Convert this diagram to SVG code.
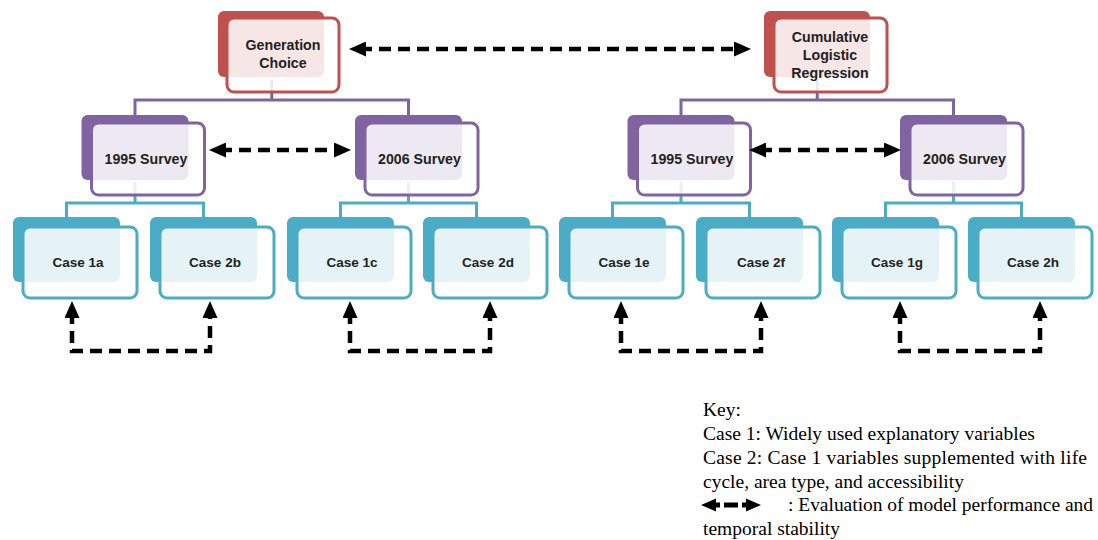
<svg xmlns="http://www.w3.org/2000/svg" width="1098" height="540" viewBox="0 0 1098 540">
<defs>
<style>
.bk-r{fill:#C0504D}
.fr-r{fill:#fff;fill-opacity:.86;stroke:#C0504D;stroke-width:3}
.bk-p{fill:#8064A2}
.fr-p{fill:#fff;fill-opacity:.86;stroke:#8064A2;stroke-width:3}
.bk-t{fill:#4BACC6}
.fr-t{fill:#fff;fill-opacity:.86;stroke:#4BACC6;stroke-width:3}
.lbl{font-family:"Liberation Sans",Arial,sans-serif;font-weight:bold;font-size:13.5px;fill:#222;text-anchor:middle}
.big{font-size:14.2px}
.key{font-family:"Liberation Serif","Times New Roman",serif;font-size:19.5px;fill:#000}
.cp{fill:none;stroke:#8064A2;stroke-width:3}
.ct{fill:none;stroke:#4BACC6;stroke-width:3}
.da{fill:none;stroke:#000;stroke-width:4.5;stroke-dasharray:12 7;marker-start:url(#ah);marker-end:url(#ah)}
</style>
<marker id="ah" markerUnits="userSpaceOnUse" markerWidth="17" markerHeight="15" refX="6" refY="7.5" orient="auto-start-reverse" viewBox="0 0 17 15">
<path d="M0,0 L17,7.5 L0,15 Z" fill="#000"/>
</marker>
</defs>

<g id="connectors">
<path class="cp" d="M135,116 V100 H408.5 V116 M271.75,80 V100"/>
<path class="cp" d="M681,116 V100 H953.5 V116 M817.25,80 V100"/>
<path class="ct" d="M66.5,218 V203 H203.5 V218 M135,182 V203"/>
<path class="ct" d="M340.5,218 V203 H476.5 V218 M408.5,182 V203"/>
<path class="ct" d="M612.5,218 V203 H749.5 V218 M681,182 V203"/>
<path class="ct" d="M885.5,218 V203 H1021.5 V218 M953.5,182 V203"/>
</g>

<g id="node-generation-choice">
<rect class="bk-r" x="218" y="11" width="106" height="66" rx="6"/>
<rect class="fr-r" x="227" y="18" width="112" height="74" rx="7"/>
<text class="lbl big" x="283" y="50">Generation</text>
<text class="lbl big" x="283" y="68">Choice</text>
</g>
<g id="node-cumulative-logistic-regression">
<rect class="bk-r" x="764" y="11" width="106" height="66" rx="6"/>
<rect class="fr-r" x="774" y="18" width="113" height="74" rx="7"/>
<text class="lbl big" x="830" y="42">Cumulative</text>
<text class="lbl big" x="830" y="60">Logistic</text>
<text class="lbl big" x="830" y="78">Regression</text>
</g>

<g id="node-1995-survey-left">
<rect class="bk-p" x="81.5" y="115" width="107" height="65" rx="6"/>
<rect class="fr-p" x="91.5" y="123" width="113" height="72" rx="7"/>
<text class="lbl big" x="146" y="164">1995 Survey</text>
</g>
<g id="node-2006-survey-left">
<rect class="bk-p" x="355" y="115" width="107" height="65" rx="6"/>
<rect class="fr-p" x="365" y="123" width="113" height="72" rx="7"/>
<text class="lbl big" x="419.5" y="164">2006 Survey</text>
</g>
<g id="node-1995-survey-right">
<rect class="bk-p" x="627.5" y="115" width="107" height="65" rx="6"/>
<rect class="fr-p" x="637.5" y="123" width="113" height="72" rx="7"/>
<text class="lbl big" x="692" y="164">1995 Survey</text>
</g>
<g id="node-2006-survey-right">
<rect class="bk-p" x="900" y="115" width="107" height="65" rx="6"/>
<rect class="fr-p" x="910" y="123" width="113" height="72" rx="7"/>
<text class="lbl big" x="964.5" y="164">2006 Survey</text>
</g>

<g id="node-case-1a">
<rect class="bk-t" x="13" y="217" width="107" height="65" rx="6"/>
<rect class="fr-t" x="23" y="227" width="114" height="71" rx="7"/>
<text class="lbl" x="78" y="267">Case 1a</text>
</g>
<g id="node-case-2b">
<rect class="bk-t" x="150" y="217" width="107" height="65" rx="6"/>
<rect class="fr-t" x="160" y="227" width="114" height="71" rx="7"/>
<text class="lbl" x="215" y="267">Case 2b</text>
</g>
<g id="node-case-1c">
<rect class="bk-t" x="287" y="217" width="107" height="65" rx="6"/>
<rect class="fr-t" x="297" y="227" width="114" height="71" rx="7"/>
<text class="lbl" x="352" y="267">Case 1c</text>
</g>
<g id="node-case-2d">
<rect class="bk-t" x="423" y="217" width="107" height="65" rx="6"/>
<rect class="fr-t" x="433" y="227" width="114" height="71" rx="7"/>
<text class="lbl" x="488" y="267">Case 2d</text>
</g>
<g id="node-case-1e">
<rect class="bk-t" x="559" y="217" width="107" height="65" rx="6"/>
<rect class="fr-t" x="569" y="227" width="114" height="71" rx="7"/>
<text class="lbl" x="624" y="267">Case 1e</text>
</g>
<g id="node-case-2f">
<rect class="bk-t" x="696" y="217" width="107" height="65" rx="6"/>
<rect class="fr-t" x="706" y="227" width="114" height="71" rx="7"/>
<text class="lbl" x="761" y="267">Case 2f</text>
</g>
<g id="node-case-1g">
<rect class="bk-t" x="832" y="217" width="107" height="65" rx="6"/>
<rect class="fr-t" x="842" y="227" width="114" height="71" rx="7"/>
<text class="lbl" x="897" y="267">Case 1g</text>
</g>
<g id="node-case-2h">
<rect class="bk-t" x="968" y="217" width="107" height="65" rx="6"/>
<rect class="fr-t" x="978" y="227" width="114" height="71" rx="7"/>
<text class="lbl" x="1033" y="267">Case 2h</text>
</g>

<g id="evaluation-arrows">
<path class="da" d="M360,49 H740"/>
<path class="da" d="M220,150 H340"/>
<path class="da" d="M760,150 H890"/>
<path class="da" d="M72,312 V351 H210 V312"/>
<path class="da" d="M350,312 V351 H490 V312"/>
<path class="da" d="M621,312 V351 H761 V312"/>
<path class="da" d="M900,312 V351 H1040 V312"/>
</g>

<g id="key">
<text class="key" x="703" y="416">Key:</text>
<text class="key" x="703" y="440">Case 1: Widely used explanatory variables</text>
<text class="key" x="703" y="464" textLength="384" lengthAdjust="spacing">Case 2: Case 1 variables supplemented with life</text>
<text class="key" x="703" y="487.5">cycle, area type, and accessibility</text>
<g id="key-arrow" fill="#000">
<polygon points="701,505 716,498.5 716,511.5"/>
<rect x="715" y="502.5" width="5" height="5"/>
<rect x="724" y="502.5" width="14" height="5"/>
<rect x="742" y="502.5" width="5" height="5"/>
<polygon points="746,498.5 761,505 746,511.5"/>
</g>
<text class="key" x="788" y="511" textLength="305" lengthAdjust="spacing">: Evaluation of model performance and</text>
<text class="key" x="703" y="535">temporal stability</text>
</g>
</svg>
